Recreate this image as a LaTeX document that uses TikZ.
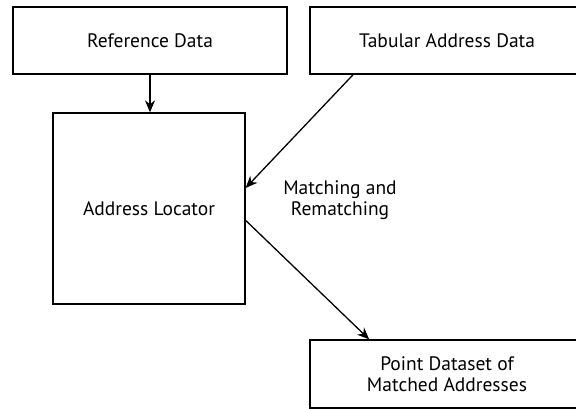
\documentclass[tikz,border=0pt]{standalone}
\usepackage{fontspec}
\setmainfont{PT Sans}
\usetikzlibrary{arrows.meta}
\tikzset{
	box/.style={draw, line width=1.3pt, rectangle, inner sep=0pt, align=center},
	flow/.style={line width=1.3pt, -{Stealth[length=12pt,width=10pt]}}
}
\begin{document}
\begin{tikzpicture}[x=1pt, y=-1pt, font=\fontsize{19.5}{21}\selectfont]
				\clip (0,0) rectangle (576,409);
				
				% Input data
				\node[box, minimum width=274pt, minimum height=67pt] (refdata) at (150,40.5) {Reference Data};
				\node[box, minimum width=274pt, minimum height=67pt] (tabdata) at (447,40.5) {Tabular Address Data};
				
				% Locator and output
				\node[box, minimum width=192pt, minimum height=191pt] (locator) at (149,208.5) {Address Locator};
				\node[box, minimum width=274pt, minimum height=68pt] (pointdata) at (447,374) {Point Dataset of\\Matched Addresses};
				
				\node[align=center] (matching) at (340,200) {Matching and\\Rematching};
				
				% Arrows
				\draw[flow] (refdata.south) -- (refdata.south |- locator.north);
				\draw[flow] (tabdata.200.4) -- (locator.12.6);
				\draw[flow] (locator.-7.4) -- (pointdata.156.4);
\end{tikzpicture}
\end{document}
